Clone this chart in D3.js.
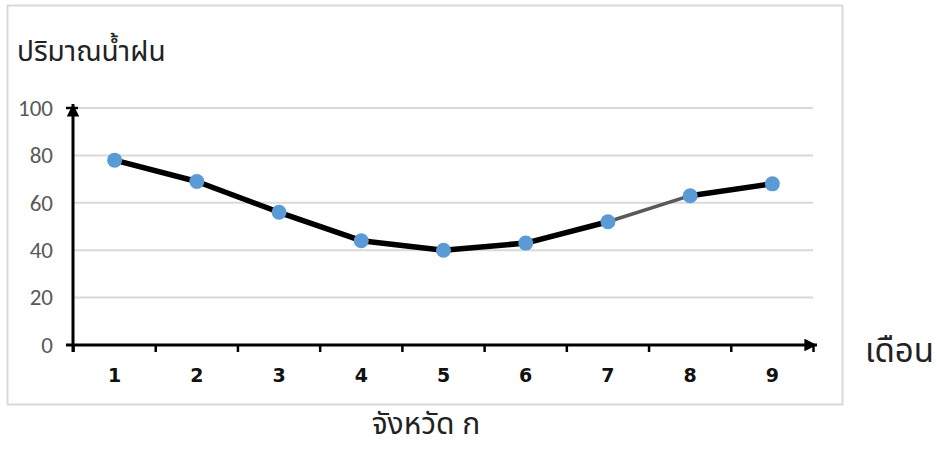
<!DOCTYPE html>
<html><head><meta charset="utf-8">
<script src="https://cdn.jsdelivr.net/npm/d3@7"></script>
<style>body{margin:0;background:#fff}</style>
</head><body>
<svg id="c" width="937" height="450"></svg>
<script>
const months = ["1","2","3","4","5","6","7","8","9"];
const rainfall = [78, 69, 56, 44, 40, 43, 52, 63, 68];
const yTicks = [0, 20, 40, 60, 80, 100];
const yTitle = "ปริมาณน้ำฝน";
const xTitle = "เดือน";
const chartTitle = "จังหวัด ก";

const svg = d3.select("#c");
const thai = "'Noto Sans Thai', 'Leelawadee UI', Tahoma, 'DejaVu Sans', sans-serif";

svg.append("rect").attr("x",7.5).attr("y",5.5).attr("width",835).attr("height",399)
  .attr("fill","#fff").attr("stroke","#d9d9d9").attr("stroke-width",2);

const x = d3.scaleBand().domain(months).range([73.5, 813.5]);
const y = d3.scaleLinear().domain([0,100]).range([345, 108]);

// gridlines
svg.append("g").selectAll("line").data(yTicks.filter(d=>d>0)).join("line")
  .attr("x1",73).attr("x2",813).attr("y1",d=>y(d)).attr("y2",d=>y(d))
  .attr("stroke","#d9d9d9").attr("stroke-width",2);

// y axis labels
const yAxis = svg.append("g").attr("transform","translate(73,0)")
  .call(d3.axisLeft(y).tickValues(yTicks).tickSize(0).tickPadding(20));
yAxis.select(".domain").remove();
yAxis.selectAll("text").attr("fill","#595959").attr("font-size",23)
  .attr("font-family","Carlito, Calibri, 'Liberation Sans', Arial, sans-serif");

// x axis ticks at band boundaries
const bounds = months.map(m=>x(m)).concat([x.range()[1]]);
svg.append("g").selectAll("line").data(bounds).join("line")
  .attr("x1",d=>d).attr("x2",d=>d).attr("y1",345).attr("y2",352)
  .attr("stroke","#000").attr("stroke-width",2.5);

const xAxis = svg.append("g").attr("transform","translate(0,345)")
  .call(d3.axisBottom(x).tickSize(0).tickPadding(24));
xAxis.select(".domain").remove();
xAxis.selectAll("text").attr("fill","#111").attr("font-size",19).attr("font-weight","bold")
  .attr("font-family","'DejaVu Sans', Verdana, sans-serif");

// arrow marker
svg.append("defs").append("marker").attr("id","arr").attr("viewBox","0 0 10 10")
  .attr("refX",10).attr("refY",5).attr("markerWidth",4.2).attr("markerHeight",4.2)
  .attr("markerUnits","strokeWidth").attr("orient","auto")
  .append("path").attr("d","M0,0 L10,5 L0,10 Z").attr("fill","#000");

// axis lines
svg.append("line").attr("x1",66).attr("x2",817).attr("y1",345).attr("y2",345)
  .attr("stroke","#000").attr("stroke-width",3).attr("marker-end","url(#arr)");
svg.append("line").attr("x1",73).attr("x2",73).attr("y1",352).attr("y2",104)
  .attr("stroke","#000").attr("stroke-width",3).attr("marker-end","url(#arr)");
svg.append("line").attr("x1",66).attr("x2",78).attr("y1",108).attr("y2",108)
  .attr("stroke","#000").attr("stroke-width",2.5);

// line segments
const cx = m => x(m) + x.bandwidth()/2;
const pts = months.map((m,i)=>({m, v:rainfall[i]}));
const segs = d3.pairs(pts);
svg.append("g").selectAll("line").data(segs).join("line")
  .attr("x1",d=>cx(d[0].m)).attr("y1",d=>y(d[0].v))
  .attr("x2",d=>cx(d[1].m)).attr("y2",d=>y(d[1].v))
  .attr("stroke",(d,i)=> i===6 ? "#595959" : "#000")
  .attr("stroke-width",(d,i)=> i===6 ? 3.5 : 5.5)
  .attr("stroke-linecap","round");

svg.append("g").selectAll("circle").data(pts).join("circle")
  .attr("cx",d=>cx(d.m)).attr("cy",d=>y(d.v)).attr("r",7.5).attr("fill","#5b9bd5");

// titles
svg.append("text").attr("x",17).attr("y",61).text(yTitle)
  .attr("font-size",28).attr("font-family",thai).attr("fill","#222");
svg.append("text").attr("x",865).attr("y",362).text(xTitle)
  .attr("font-size",33).attr("font-family",thai).attr("fill","#222");
svg.append("text").attr("x",426).attr("y",434).attr("text-anchor","middle").text(chartTitle)
  .attr("font-size",30).attr("font-family",thai).attr("fill","#222");
</script>
</body></html>
